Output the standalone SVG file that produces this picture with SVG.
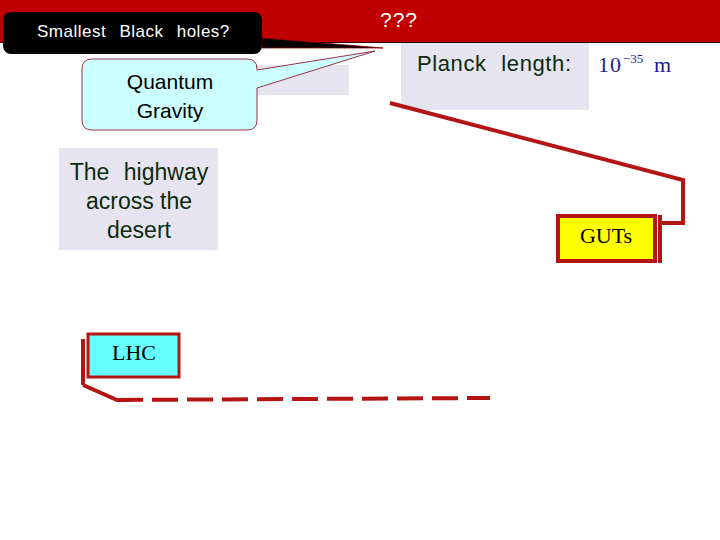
<svg xmlns="http://www.w3.org/2000/svg" width="720" height="540" viewBox="0 0 720 540">
<style>
.sans{font-family:"Liberation Sans",Arial,sans-serif}
.serif{font-family:"Liberation Serif","Times New Roman",serif}
.lav{fill:#E6E4F0}
.conn{fill:none;stroke:#B41414;stroke-width:4}
</style>
<rect width="720" height="540" fill="#FFFFFF"/>
<g id="header">
<rect x="0" y="0" width="720" height="42" fill="#C00000"/>
<line x1="0" y1="42.5" x2="720" y2="42.5" stroke="#2a0000" stroke-width="1"/>
<text x="380" y="27" class="sans" font-size="21" fill="#FFFFFF" letter-spacing="1">???</text>
</g>
<g id="black-holes">
<path d="M262 38 L383 48 L262 48 Z" fill="#000000" stroke="#8a0000" stroke-width="0.8"/>
<rect x="3" y="12" width="259" height="42" rx="8" fill="#000000"/>
<text x="37" y="37" class="sans" font-size="17" fill="#FFFFFF" word-spacing="8" letter-spacing="0.5">Smallest Black holes?</text>
</g>
<g id="lav-small">
<rect x="257" y="65" width="92" height="30" class="lav"/>
</g>
<g id="quantum-gravity">
<path d="M92 59 H247 Q257 59 257 69 V70 L375 51 L257 88 V120 Q257 130 247 130 H92 Q82 130 82 120 V69 Q82 59 92 59 Z" fill="#CCFFFF" stroke="#993344" stroke-width="1"/>
<text x="170" y="89" class="sans" font-size="21" fill="#000000" text-anchor="middle">Quantum</text>
<text x="170" y="118" class="sans" font-size="21" fill="#000000" text-anchor="middle">Gravity</text>
</g>
<g id="planck">
<rect x="401" y="43" width="188" height="67" class="lav"/>
<text x="417" y="71" class="sans" font-size="22" fill="#0B2A0B" word-spacing="8" letter-spacing="0.6">Planck length:</text>
<text x="598" y="72" class="serif" font-size="22" fill="#1C1C8C" letter-spacing="1">10</text>
<text x="623" y="63" class="serif" font-size="13" fill="#1C1C8C">−35</text>
<text x="654" y="72" class="serif" font-size="22" fill="#1C1C8C">m</text>
</g>
<g id="highway">
<rect x="59" y="148" width="159" height="102" class="lav"/>
<text x="139" y="180" class="sans" font-size="23" fill="#0B2A0B" text-anchor="middle" word-spacing="8">The highway</text>
<text x="139" y="209" class="sans" font-size="23" fill="#0B2A0B" text-anchor="middle">across the</text>
<text x="139" y="238" class="sans" font-size="23" fill="#0B2A0B" text-anchor="middle">desert</text>
</g>
<g id="connectors">
<polyline class="conn" points="390,103 683,180 683,223 660,223"/>
<line class="conn" x1="660" y1="215" x2="660" y2="263"/>
<line class="conn" x1="83" y1="339" x2="83" y2="385"/>
<polyline class="conn" points="83,385 117,400 130,400"/>
<line class="conn" x1="117" y1="400" x2="490" y2="398" stroke-dasharray="26,9"/>
</g>
<g id="guts">
<rect x="558" y="216" width="97" height="45" fill="#FFFF00" stroke="#B41414" stroke-width="4"/>
<text x="606" y="243" class="serif" font-size="22" fill="#000000" text-anchor="middle">GUTs</text>
</g>
<g id="lhc">
<rect x="88" y="334" width="91" height="43" fill="#66FFFF" stroke="#B41414" stroke-width="3"/>
<text x="134" y="360" class="serif" font-size="22" fill="#000000" text-anchor="middle">LHC</text>
</g>
</svg>
